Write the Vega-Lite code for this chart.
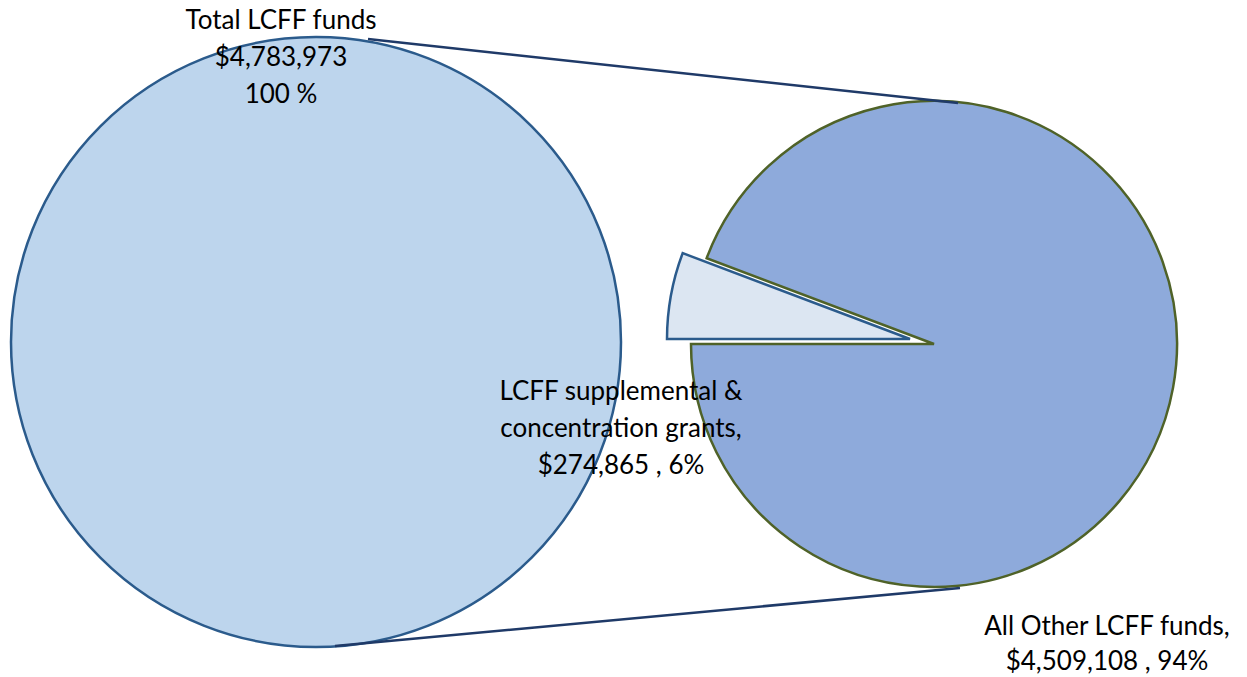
{
  "$schema": "https://vega.github.io/schema/vega-lite/v6.json",
  "width": 1247,
  "height": 677,
  "autosize": {"type": "fit", "contains": "padding"},
  "padding": 0,
  "background": "white",
  "config": {"view": {"stroke": null}, "font": "Lato"},
  "datasets": {
    "pie": [
      {"category": "LCFF supplemental & concentration grants", "amount": 274865, "pct": "6%"},
      {"category": "All Other LCFF funds", "amount": 4509108, "pct": "94%"}
    ],
    "total": [
      {"category": "Total LCFF funds", "amount": 4783973, "pct": "100 %"}
    ]
  },
  "layer": [
    {
      "data": {"name": "total"},
      "mark": {"type": "point", "shape": "circle", "filled": true, "fill": "#BDD5ED", "fillOpacity": 1, "opacity": 1, "stroke": "#2B5B8C", "strokeWidth": 2.5},
      "encoding": {
        "x": {"value": 316},
        "y": {"value": 342},
        "size": {"value": 372100}
      }
    },
    {
      "data": {"name": "pie"},
      "mark": {"type": "arc", "x": 934, "y": 344, "outerRadius": 243, "strokeWidth": 2.5, "strokeJoin": "miter"},
      "encoding": {
        "theta": {"field": "amount", "type": "quantitative", "stack": true, "scale": {"range": [4.71239, 10.99557]}},
        "order": {"field": "category", "sort": "descending"},
        "fill": {"field": "category", "type": "nominal", "legend": null,
          "scale": {"domain": ["LCFF supplemental & concentration grants", "All Other LCFF funds"], "range": ["#DCE6F2", "#8EAADB"]}},
        "stroke": {"field": "category", "type": "nominal", "legend": null,
          "scale": {"domain": ["LCFF supplemental & concentration grants", "All Other LCFF funds"], "range": ["#2B5B8C", "#4F6228"]}},
        "opacity": {"condition": {"test": "datum.category !== 'All Other LCFF funds'", "value": 0}, "value": 1}
      }
    },
    {
      "data": {"name": "pie"},
      "mark": {"type": "arc", "x": 910, "y": 339, "outerRadius": 243, "strokeWidth": 2.5, "strokeJoin": "miter"},
      "encoding": {
        "theta": {"field": "amount", "type": "quantitative", "stack": true, "scale": {"range": [4.71239, 10.99557]}},
        "order": {"field": "category", "sort": "descending"},
        "fill": {"field": "category", "type": "nominal", "legend": null,
          "scale": {"domain": ["LCFF supplemental & concentration grants", "All Other LCFF funds"], "range": ["#DCE6F2", "#8EAADB"]}},
        "stroke": {"field": "category", "type": "nominal", "legend": null,
          "scale": {"domain": ["LCFF supplemental & concentration grants", "All Other LCFF funds"], "range": ["#2B5B8C", "#4F6228"]}},
        "opacity": {"condition": {"test": "datum.category === 'All Other LCFF funds'", "value": 0}, "value": 1}
      }
    },
    {
      "data": {"values": [{}]},
      "mark": {"type": "rule", "stroke": "#1F3A68", "strokeWidth": 2.5},
      "encoding": {"x": {"value": 368}, "y": {"value": 39}, "x2": {"value": 958}, "y2": {"value": 103}}
    },
    {
      "data": {"values": [{}]},
      "mark": {"type": "rule", "stroke": "#1F3A68", "strokeWidth": 2.5},
      "encoding": {"x": {"value": 335}, "y": {"value": 646}, "x2": {"value": 960}, "y2": {"value": 588}}
    },
    {
      "data": {"name": "total"},
      "transform": [{"calculate": "[datum.category, format(datum.amount, '$,'), datum.pct]", "as": "label"}],
      "mark": {"type": "text", "x": 281, "y": 8, "baseline": "top", "align": "center", "fontSize": 26, "lineHeight": 37, "color": "#000000"},
      "encoding": {"text": {"field": "label"}}
    },
    {
      "data": {"name": "pie"},
      "transform": [
        {"filter": "datum.category !== 'All Other LCFF funds'"},
        {"calculate": "['LCFF supplemental  &', 'concentration grants,', format(datum.amount, '$,') + ' , ' + datum.pct]", "as": "label"}
      ],
      "mark": {"type": "text", "x": 621, "y": 379, "baseline": "top", "align": "center", "fontSize": 26, "lineHeight": 37, "color": "#000000"},
      "encoding": {"text": {"field": "label"}}
    },
    {
      "data": {"name": "pie"},
      "transform": [
        {"filter": "datum.category === 'All Other LCFF funds'"},
        {"calculate": "[datum.category + ',', format(datum.amount, '$,') + ' , ' + datum.pct]", "as": "label"}
      ],
      "mark": {"type": "text", "x": 1107, "y": 614, "baseline": "top", "align": "center", "fontSize": 26, "lineHeight": 35, "color": "#000000"},
      "encoding": {"text": {"field": "label"}}
    }
  ]
}
